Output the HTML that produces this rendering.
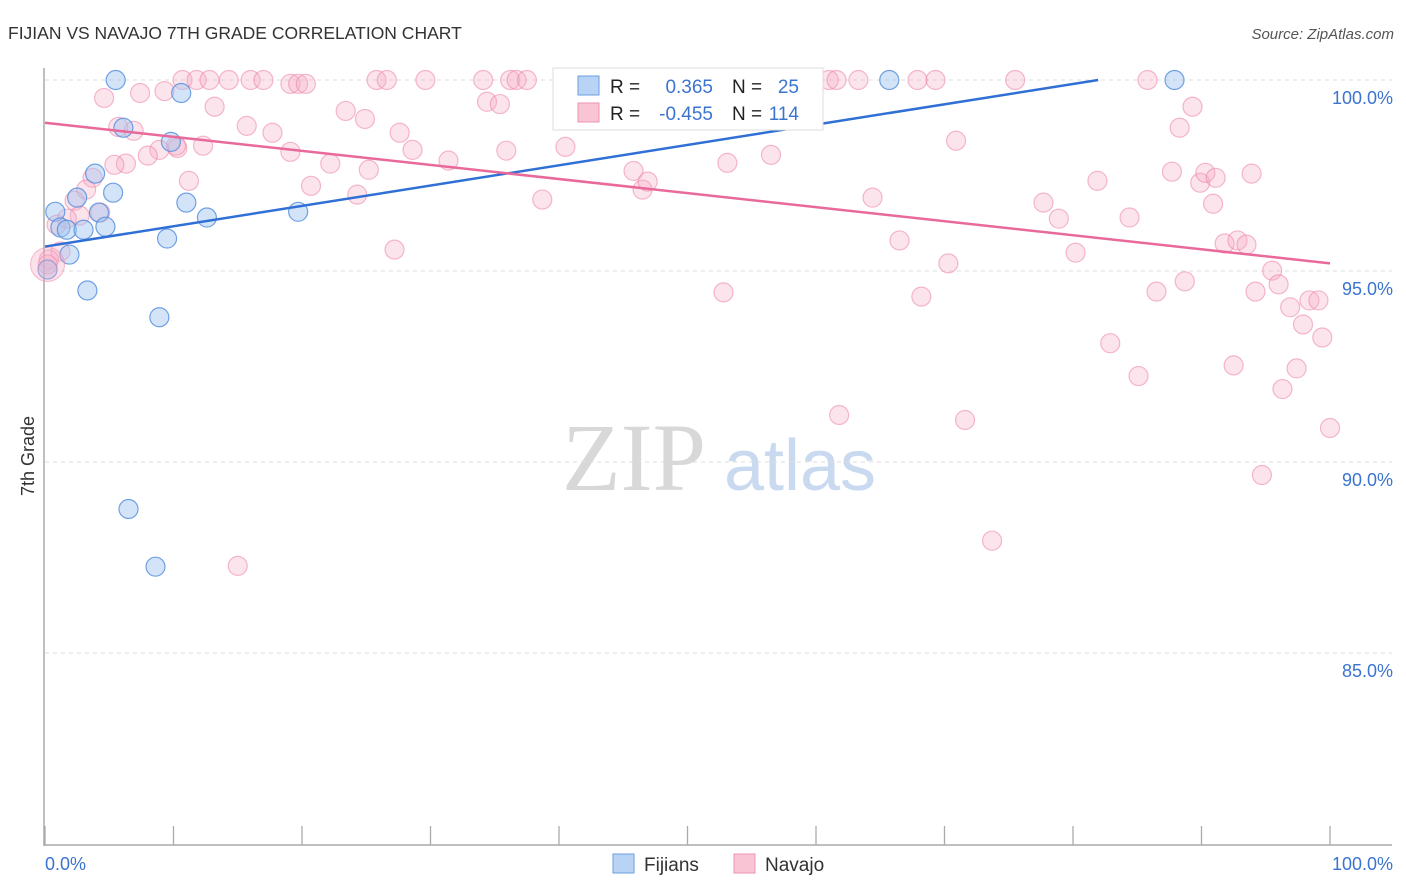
<!DOCTYPE html>
<html><head><meta charset="utf-8"><style>
body{margin:0;background:#fff;font-family:"Liberation Sans",sans-serif;}
svg{display:block}
</style></head><body>
<svg id="chart" width="1406" height="892" xmlns="http://www.w3.org/2000/svg">
<text x="8" y="39" font-size="17.5" fill="#333" font-family="Liberation Sans, sans-serif">FIJIAN VS NAVAJO 7TH GRADE CORRELATION CHART</text>
<text x="1394" y="39" font-size="15" fill="#555" font-style="italic" text-anchor="end">Source: ZipAtlas.com</text>
<g>
<text x="634" y="490" font-size="96" fill="#d8d8d8" text-anchor="middle" font-family="Liberation Serif, serif">ZIP</text>
<text x="800" y="490" font-size="72" fill="#c9d9f0" text-anchor="middle">atlas</text>
</g>
<g id="grid"></g>
<g id="axes"></g>
<g id="points"></g>
<g id="trends"></g>
<text transform="translate(34,456) rotate(-90)" font-size="18" fill="#333" text-anchor="middle">7th Grade</text>
<g>
<rect x="553" y="68" width="270" height="62" fill="#fff" stroke="#ddd"/>
<rect x="578" y="76" width="21" height="19" fill="#b8d3f5" stroke="#6a9fe0"/>
<rect x="578" y="103" width="21" height="19" fill="#f9c4d4" stroke="#ee93b0"/>
<text x="610" y="93" font-size="19" fill="#222">R =</text>
<text x="713" y="93" font-size="19" fill="#3b74d0" text-anchor="end">0.365</text>
<text x="732" y="93" font-size="19" fill="#222">N =</text>
<text x="799" y="93" font-size="19" fill="#3b74d0" text-anchor="end">25</text>
<text x="610" y="120" font-size="19" fill="#222">R =</text>
<text x="713" y="120" font-size="19" fill="#3b74d0" text-anchor="end">-0.455</text>
<text x="732" y="120" font-size="19" fill="#222">N =</text>
<text x="799" y="120" font-size="19" fill="#3b74d0" text-anchor="end">114</text>
</g>
<g>
<rect x="613" y="854" width="21" height="19" fill="#b8d3f5" stroke="#6a9fe0"/>
<text x="644" y="871" font-size="19" fill="#333">Fijians</text>
<rect x="734" y="854" width="21" height="19" fill="#f9c4d4" stroke="#ee93b0"/>
<text x="765" y="871" font-size="19" fill="#333">Navajo</text>
</g>
</svg>
<script>
const yTicks=[100,95,90,85];
const yTickLabels=["100.0%","95.0%","90.0%","85.0%"];
const xTickCount=11;
const xEndLabels=["0.0%","100.0%"];
const fijianX=[5.5,10.6,6.1,9.8,3.9,5.3,2.5,0.8,4.2,11.0,12.6,19.7,1.2,1.7,3.0,4.7,9.5,1.9,0.2,3.3,8.9,6.5,8.6,65.7,87.9];
const fijianY=[100,99.66,98.75,98.38,97.55,97.05,96.92,96.55,96.53,96.79,96.40,96.55,96.14,96.08,96.08,96.16,95.85,95.43,95.04,94.49,93.79,88.77,87.26,100,100];
const navajoX=[4.6,7.4,9.3,10.7,11.8,12.8,13.2,14.3,16.0,17.0,15.7,17.7,19.1,19.7,20.3,23.4,24.9,25.8,26.6,29.6,27.6,28.6,31.4,34.1,34.4,35.4,36.2,36.7,35.9,40.5,38.7,45.8,46.5,46.9,52.5,53.1,56.5,61.0,61.6,63.3,67.9,69.3,70.9,75.5,85.8,89.3,88.3,87.7,89.9,90.3,91.1,90.9,93.9,64.4,66.5,70.3,68.2,52.8,61.8,71.6,73.7,77.7,78.9,81.9,84.4,80.2,82.9,85.1,86.5,88.7,91.8,92.8,93.5,92.5,94.2,95.5,96.0,96.9,97.9,98.4,99.1,99.4,97.4,96.3,100,94.7,15.0,27.2,24.3,25.2,22.2,20.7,19.1,12.3,10.3,8.9,11.2,8.0,6.3,5.4,5.7,6.9,3.7,3.2,2.3,2.7,1.7,0.9,4.3,1.2,0.3,0.2,10.2,37.5];
const navajoY=[99.53,99.66,99.71,100,100,100,99.30,100,100,100,98.80,98.62,99.90,99.90,99.90,99.19,98.98,100,100,100,98.62,98.17,97.89,100,99.43,99.37,100,100,98.15,98.25,96.87,97.62,97.13,97.34,100,97.83,98.04,100,100,100,100,100,98.41,100,100,99.30,98.75,97.60,97.31,97.57,97.44,96.76,97.55,96.92,95.80,95.20,94.33,94.44,91.23,91.10,87.94,96.79,96.37,97.36,96.40,95.48,93.11,92.25,94.46,94.73,95.72,95.80,95.69,92.53,94.46,95.01,94.65,94.05,93.60,94.23,94.23,93.26,92.45,91.91,90.89,89.66,87.28,95.56,97.00,97.65,97.81,97.23,98.12,98.28,98.22,98.17,97.36,98.02,97.81,97.78,98.77,98.67,97.44,97.13,96.84,96.45,96.37,96.21,96.53,95.51,95.30,95.17,98.28,100];
const fijianTrend=[95.64,100.96];
const navajoTrend=[98.88,95.20];
const NS='http://www.w3.org/2000/svg';
const X0=45,X1=1330,Y100=80,Y95=271;
const sx=v=>X0+(X1-X0)*v/100;
const sy=v=>Y100+(100-v)*(Y95-Y100)/5;
function mk(tag,attrs,parent){const e=document.createElementNS(NS,tag);for(const k in attrs)e.setAttribute(k,attrs[k]);parent.appendChild(e);return e;}
const grid=document.getElementById('grid'),axes=document.getElementById('axes'),pts=document.getElementById('points'),tr=document.getElementById('trends');
yTicks.forEach((t,i)=>{
 const l=mk('line',{x1:45,x2:1392,y1:sy(t),y2:sy(t),stroke:'#ddd','stroke-dasharray':'4,4'},grid);
 
 
 const tx=mk('text',{x:1393,y:sy(t)+24,'font-size':18,fill:'#3b74d0','text-anchor':'end'},grid);
 tx.textContent=yTickLabels[i];
 
 
});
const ya=mk('line',{x1:44,x2:44,y1:68,y2:846,stroke:'#aaa','stroke-width':1.5},axes);


const xa=mk('line',{x1:44,x2:1392,y1:845,y2:845,stroke:'#aaa','stroke-width':1.5},axes);


for(let i=0;i<xTickCount;i++){
 const v=i*100/(xTickCount-1);
 const t=mk('line',{x1:sx(v),x2:sx(v),y1:826,y2:845,stroke:'#aaa','stroke-width':1.3},axes);
 
 
}
[[0,'start',45],[1,'end',1393]].forEach(([i,a,x])=>{
 const t=mk('text',{x:x,y:870,'font-size':18,fill:'#3b74d0','text-anchor':a},axes);
 t.textContent=xEndLabels[i];
 
 
});
navajoX.forEach((x,i)=>{
 const c=mk('circle',{cx:sx(x),cy:sy(navajoY[i]),r:9.5,fill:'rgba(246,170,195,0.32)',stroke:'rgba(236,130,165,0.55)','stroke-width':1.2},pts);
 
 
});
fijianX.forEach((x,i)=>{
 const c=mk('circle',{cx:sx(x),cy:sy(fijianY[i]),r:9.5,fill:'rgba(160,196,240,0.45)',stroke:'rgba(80,140,220,0.8)','stroke-width':1.2},pts);
 
 
});
const big=mk('circle',{cx:sx(0.2),cy:sy(95.17),r:17,fill:'rgba(246,170,195,0.35)',stroke:'rgba(236,130,165,0.5)'},pts);


const fEndX=Math.min(100,100*(100-fijianTrend[0])/(fijianTrend[1]-fijianTrend[0]));
const fEndY=fijianTrend[0]+(fijianTrend[1]-fijianTrend[0])*fEndX/100;
const fl=mk('line',{x1:sx(0),y1:sy(fijianTrend[0]),x2:sx(fEndX),y2:sy(fEndY),stroke:'#2f6fd6','stroke-width':2.5},tr);


const nl=mk('line',{x1:sx(0),y1:sy(navajoTrend[0]),x2:sx(100),y2:sy(navajoTrend[1]),stroke:'#e8699a','stroke-width':2.5},tr);


</script>
</body></html>
